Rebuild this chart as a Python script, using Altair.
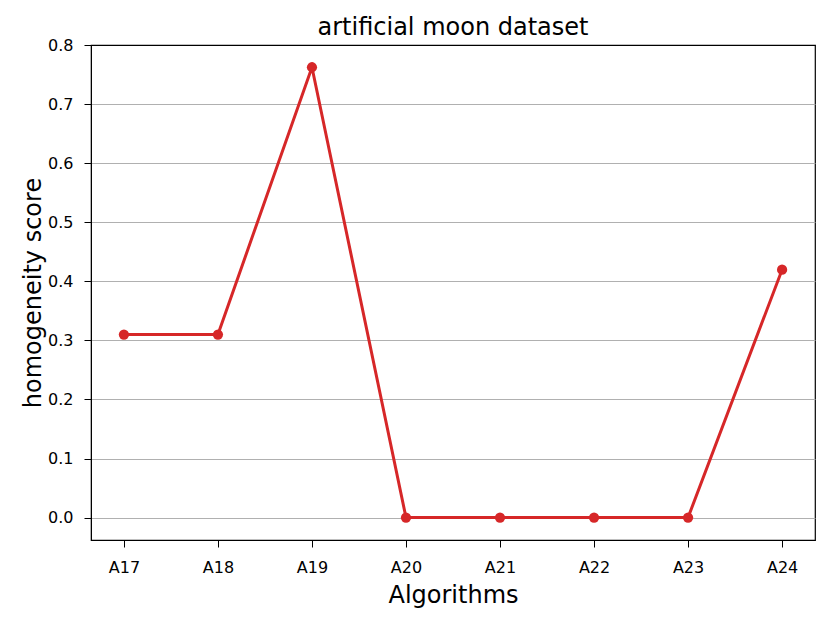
import altair as alt
import pandas as pd

algorithms = ["A17", "A18", "A19", "A20", "A21", "A22", "A23", "A24"]
scores = [0.31, 0.31, 0.763, 0.0, 0.0, 0.0, 0.0, 0.42]
y_ticks = [0.0, 0.1, 0.2, 0.3, 0.4, 0.5, 0.6, 0.7, 0.8]

df = pd.DataFrame({"Algorithms": algorithms, "score": scores})

RED = "#d62728"
FONT = "DejaVu Sans"

x = alt.X(
    "Algorithms:N",
    sort=algorithms,
    scale=alt.Scale(type="point", padding=0.35),
    axis=alt.Axis(
        title="Algorithms", titleFontSize=24, titleFont=FONT, titleFontWeight="normal",
        titleColor="black", titlePadding=8,
        labelAngle=0, labelFontSize=16, labelFont=FONT, labelColor="black",
        labelPadding=12, tickSize=7, tickColor="black", domainColor="black",
        grid=False,
    ),
)
y = alt.Y(
    "score:Q",
    scale=alt.Scale(domain=[-0.0381, 0.8007], nice=False, zero=False),
    axis=alt.Axis(
        title="homogeneity score", titleFontSize=24, titleFont=FONT, titleFontWeight="normal",
        titleColor="black", titlePadding=2,
        values=y_ticks, format=".1f",
        labelFontSize=16, labelFont=FONT, labelColor="black", labelPadding=11,
        tickSize=7, tickColor="black", domainColor="black",
        grid=True,
        gridColor=alt.condition("datum.value >= 0.79", alt.value("black"), alt.value("#b0b0b0")),
        gridWidth=1.2,
    ),
)

base = alt.Chart(df).encode(x=x, y=y)
line = base.mark_line(color=RED, strokeWidth=3)
pts = base.mark_point(color=RED, filled=True, size=105, opacity=1)

chart = (
    (line + pts)
    .properties(
        width=724,
        height=495,
        title=alt.TitleParams("artificial moon dataset", fontSize=24, font=FONT,
                              fontWeight="normal", color="black", offset=-3),
        autosize=alt.AutoSizeParams(type="none"),
        padding={"left": 83, "top": 37, "right": 6, "bottom": 75},
    )
    .configure_view(stroke="black", strokeWidth=1.2)
)

chart.save("out.html", embed_options={"renderer": "svg", "actions": False})
